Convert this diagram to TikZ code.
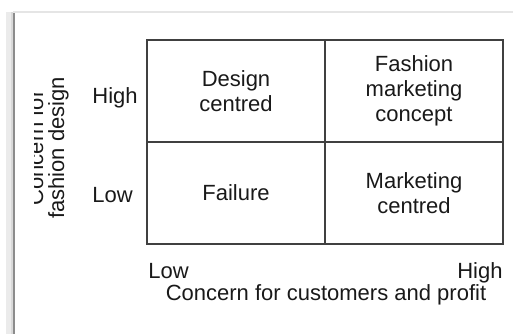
\documentclass[tikz,border=0pt]{standalone}
\usepackage{fontspec}
\setmainfont{Liberation Sans}
\usetikzlibrary{positioning}

\tikzset{
    cell/.style={draw=black!75, line width=0.8pt, minimum width=89pt, minimum height=51pt,
        inner sep=0pt, outer sep=0pt, align=center, text=black!90,
        font=\fontsize{11}{12.5}\selectfont},
    tag/.style={inner sep=0pt, text=black!90, font=\fontsize{11}{12.5}\selectfont},
}

\begin{document}
\begin{tikzpicture}[x=0.5pt, y=-0.5pt]
    \useasboundingbox (0,0) rectangle (513,334);
    % Page edge
    \draw[black!8, line width=3pt] (9,12) -- (9,334);
    \draw[black!15, line width=1pt] (11.5,12) -- (11.5,334);
    \draw[black!45, line width=1pt] (13.5,12) -- (13.5,334);
    \draw[black!10, line width=1pt] (13,12) -- (513,12);

    % Cuadrantes
    \node[cell] (dc) at (236,91) {Design\\centred};
    \node[cell, right=0pt of dc] (fm) {Fashion\\marketing\\concept};
    \node[cell, below=0pt of dc] (fa) {Failure};
    \node[cell, right=0pt of fa] (mc) {Marketing\\centred};

    % Eje vertical
    \node[tag, anchor=base west] (yhigh) at (92,103) {High};
    \node[tag, anchor=base west] (ylow) at (92,202) {Low};
    \begin{scope}
        \clip (34,0) rectangle (90,334);
        \node[tag, rotate=90, anchor=base] (ytitle) at (43,148) {Concern for};
        \node[tag, rotate=90, anchor=base] (ysub) at (64,148) {fashion design};
    \end{scope}

    % Eje horizontal
    \node[tag, anchor=base west] (xlow) at (148,278) {Low};
    \node[tag, anchor=base east] (xhigh) at (503,278) {High};
    \node[tag, anchor=base] (xtitle) at (326,300) {Concern for customers and profit};
\end{tikzpicture}
\end{document}
